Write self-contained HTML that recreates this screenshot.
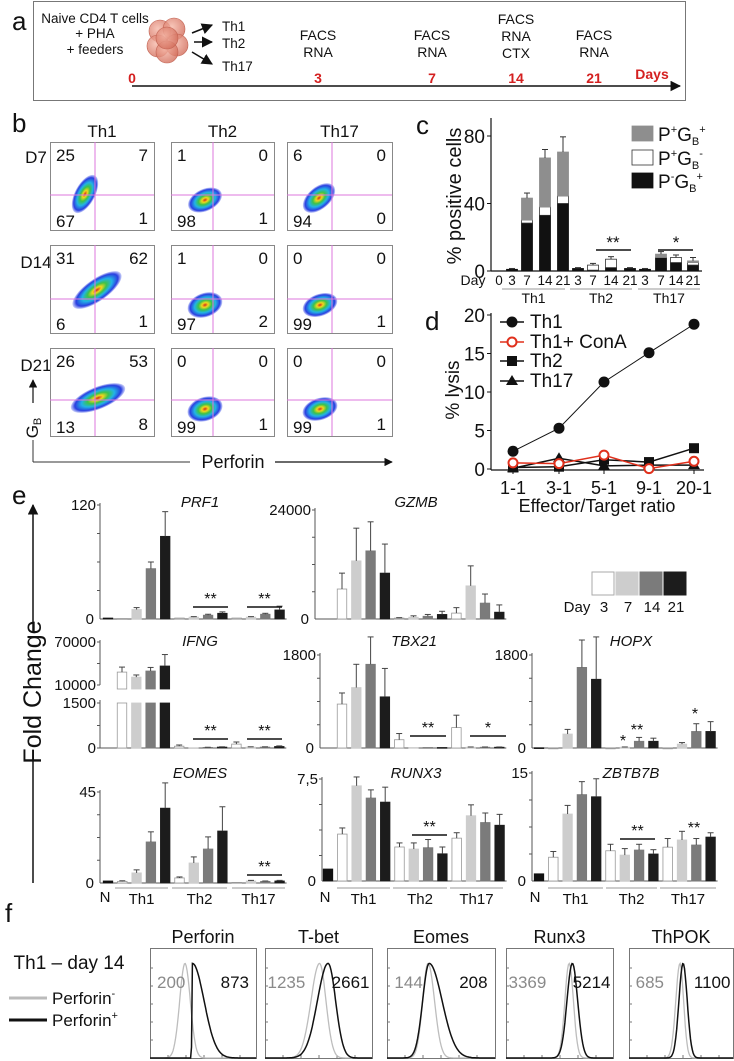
<!DOCTYPE html>
<html><head><meta charset="utf-8"><title>Figure</title>
<style>html,body{margin:0;padding:0;background:#fff;}svg{display:block;}</style>
</head><body>
<svg id="fig" width="734" height="1061" viewBox="0 0 734 1061" font-family="'Liberation Sans', Arial, sans-serif">
<defs>
<radialGradient id="flowGrad" cx="50%" cy="50%" r="50%">
<stop offset="0%" stop-color="#d02a1a"/><stop offset="18%" stop-color="#f2d81c"/><stop offset="38%" stop-color="#3cc24a"/><stop offset="60%" stop-color="#22b4e6"/><stop offset="85%" stop-color="#2a3ee0"/><stop offset="100%" stop-color="#3a50e8" stop-opacity="0.25"/>
</radialGradient>
<radialGradient id="cellGrad" cx="40%" cy="40%" r="60%"><stop offset="0%" stop-color="#f6b8a8"/><stop offset="100%" stop-color="#d4705e"/></radialGradient>
<marker id="arr" viewBox="0 0 10 10" refX="9" refY="5" markerWidth="7" markerHeight="7" orient="auto"><path d="M0,0 L10,5 L0,10 z" fill="#111"/></marker>
</defs>
</svg>
<script>
// ---------- DATA ----------
const aDays = ['0','3','7','14','21'];
const aAssays = [[], ['FACS','RNA'], ['FACS','RNA'], ['FACS','RNA','CTX'], ['FACS','RNA']];
const bCols = ['Th1','Th2','Th17'];
const bRows = ['D7','D14','D21'];
const bQuad = [
 [[25,7,67,1],[1,0,98,1],[6,0,94,0]],
 [[31,62,6,1],[1,0,97,2],[0,0,99,1]],
 [[26,53,13,8],[0,0,99,1],[0,0,99,1]]
];
const cDays = ['0','3','7','14','21','3','7','14','21','3','7','14','21'];
const cGroups = ['Th1','Th2','Th17'];
const cBlack = [0,1,28.4,33,40,1.5,0.5,2,1.5,1,8,5,3.5];
const cWhite = [0,0,1.8,5,4.5,0,3,5,0,0,0,3,1.5];
const cGrey  = [0,0,13,29,26,0,0,0,0,0,2,0,1];
const cErr   = [0,0.5,3,5,9,0.5,1,1.5,0.5,0.5,1.5,1.5,2];
const cTicks = [0,40,80];
const dRatios = ['1-1','3-1','5-1','9-1','20-1'];
const dTh1  = [2.3,5.3,11.3,15.1,18.8];
const dConA = [0.8,0.7,1.8,0.05,1.0];
const dTh2  = [0.2,0.3,1.2,0.9,2.7];
const dTh17 = [0.1,1.4,0.4,0.5,0.5];
const dTicks = [0,5,10,15,20];
const colsN  = ['N','W','L','G','B','W','L','G','B','W','L','G','B'];
const cols12 = ['W','L','G','B','W','L','G','B','W','L','G','B'];
const prf1Vals = [1,0.5,10,53,87, 1,2,4,6, 1,2,5,9.5];
const prf1Err  = [0,0,2,7,26, 0,0.5,1,1.5, 0,0.5,1,4];
const gzmbVals = [6600,12800,15000,10100, 200,400,600,1000, 1300,7300,3500,1500];
const gzmbErr  = [3500,7200,6400,6400, 100,300,400,700, 1200,4400,2000,1600];
const ifngVals = [28000,21000,29500,36500, 60,10,20,30, 130,30,30,50];
const ifngErr  = [7000,3000,5000,16000, 40,0,5,10, 70,10,10,20];
const tbx21Vals = [850,1170,1620,990, 160,10,10,10, 395,15,15,15];
const tbx21Err  = [215,450,530,550, 120,0,0,0, 240,5,5,5];
const hopxVals = [5,0,270,1560,1330, 0,15,130,130, 0,75,320,320];
const hopxErr  = [0,0,90,530,820, 0,5,75,60, 0,30,150,190];
const eomesVals = [1,0.8,5,20.3,37, 2.5,9.9,16.8,25.7, 0.3,1,0.8,1];
const eomesErr  = [0,0.3,1.5,5,12.5, 0.5,3,6,12, 0,0.3,0.2,0.3];
const runx3Vals = [0.88,3.45,7.0,6.1,5.8, 2.5,2.35,2.45,2.0, 3.15,4.8,4.3,4.1];
const runx3Err  = [0,0.45,0.65,0.6,1.1, 0.3,0.45,0.6,0.5, 0.4,0.8,0.7,0.8];
const zbtbVals = [1,3.3,9.3,12,11.7, 4.2,3.6,4.3,3.75, 4.7,5.7,5.0,6.1];
const zbtbErr  = [0,0.8,1.2,1.8,2.5, 0.9,0.9,0.8,0.6, 1.2,1.2,0.9,0.6];
const legendDays = ['3','7','14','21'];
const fMarkers = ['Perforin','T-bet','Eomes','Runx3','ThPOK'];
const fNegMFI = ['200','1235','144','3369','685'];
const fPosMFI = ['873','2661','208','5214','1100'];
const fNegCenter = [0.33,0.51,0.38,0.59,0.49];
const fNegWl = [0.05,0.08,0.05,0.04,0.04];
const fNegWr = [0.05,0.06,0.06,0.04,0.035];
const fPosCenter = [0.40,0.59,0.39,0.62,0.52];
const fPosWl = [0.004,0.10,0.06,0.05,0.04];
const fPosWr = [0.11,0.07,0.12,0.05,0.04];

// ---------- HELPERS ----------
const NS = 'http://www.w3.org/2000/svg';
const svg = document.getElementById('fig');
function mk(tag, attrs, name, parent) {
  const e = document.createElementNS(NS, tag);
  for (const k in attrs) e.setAttribute(k, attrs[k]);
  
  
  (parent || svg).appendChild(e);
  return e;
}
function ln(x1,y1,x2,y2,name,stroke,w,extra,parent){ return mk('line',Object.assign({x1,y1,x2,y2,stroke:stroke||'#111','stroke-width':w||1},extra||{}),name,parent); }
function tx(x,y,s,size,name,anchor,extra,parent){ const e=mk('text',Object.assign({x,y,'font-size':size,'text-anchor':anchor||'start',fill:'#111'},extra||{}),name,parent); e.textContent=s; return e; }
const FILL = {N:'#111',W:'#fff',L:'#cdcdcd',G:'#7b7b7b',B:'#1c1c1c'};

// ---------- PANEL A ----------
tx(12,30,'a',26,'panel-a-label');
mk('rect',{x:33.5,y:1.5,width:652,height:99,fill:'none',stroke:'#777','stroke-width':1},'protocol-box');
tx(95,23,'Naive CD4 T cells',13.5,'naive-cd4-label','middle');
tx(95,38,'+ PHA',13.5,'pha-label','middle');
tx(95,54,'+ feeders',13.5,'feeders-label','middle');
[[160,31],[174,29],[158,46],[177,45],[167,52],[167,38]].forEach(function(p){
  mk('circle',{cx:p[0],cy:p[1],r:11,fill:'url(#cellGrad)','fill-opacity':0.8,stroke:'#c06050','stroke-width':0.6},'cell-cluster-circle');
});
[[192,33,212,25],[194,42,212,42],[192,52,212,64]].forEach(function(a){
  ln(a[0],a[1],a[2],a[3],'differentiation-arrow','#111',1.6,{'marker-end':'url(#arr)'});
});
tx(222,31,'Th1',13.5,'th1-arrow-label');
tx(222,48,'Th2',13.5,'th2-arrow-label');
tx(222,71,'Th17',13.5,'th17-arrow-label');
const aX = [132,318,432,516,594];
aDays.forEach(function(d,i){
  tx(aX[i],83,d,14,'day-'+d+'-label','middle',{fill:'#d42020','font-weight':'bold'});
  const as = aAssays[i];
  as.forEach(function(s,j){
    const y0 = as.length===3 ? 24 : 40;
    tx(aX[i],y0+j*17,s,14,'assay-'+s.toLowerCase()+'-day-'+d,'middle');
  });
});
tx(652,79,'Days',14,'days-axis-label','middle',{fill:'#d42020','font-weight':'bold'});
ln(132,86,680,86,'timeline-axis','#111',1.5,{'marker-end':'url(#arr)'});

// ---------- PANEL B ----------
tx(12,132,'b',26,'panel-b-label');
const bX=[50,171,287], bW=[104,103,105], bY=[142,245,348], bH=88;
const bVx=[45,42,45], bHy=[53,54,52];
const blobs = [
 [[35,52,21,10,-62],[34,58,18,11,-25],[32,56,19,11,-40]],
 [[47,45,29,11,-35],[34,60,18,12,-20],[33,60,18,11,-20]],
 [[48,50,29,11,-22],[34,61,18,12,-18],[33,61,18,11,-18]]
];
bCols.forEach(function(c,j){ tx(bX[j]+bW[j]/2,137,c,17,'flow-col-'+c.toLowerCase(),'middle'); });
bRows.forEach(function(r,i){
  tx(36,bY[i]+23+(i===0?-2:0),r,17,'flow-row-'+r.toLowerCase(),'middle');
  bCols.forEach(function(c,j){
    const x=bX[j], y=bY[i], w=bW[j];
    const g = mk('g',{},'flow-plot-'+c.toLowerCase()+'-'+r.toLowerCase());
    mk('rect',{x:x+0.5,y:y+0.5,width:w,height:bH,fill:'#fff',stroke:'#888','stroke-width':1},'flow-plot-frame',g);
    const b = blobs[i][j];
    mk('ellipse',{cx:x+b[0],cy:y+b[1],rx:b[2],ry:b[3],fill:'url(#flowGrad)',transform:'rotate('+b[4]+' '+(x+b[0])+' '+(y+b[1])+')'},'flow-density-cloud',g);
    ln(x+bVx[j],y,x+bVx[j],y+bH,'quadrant-vertical-gate','#dd77dd',1,{},g);
    ln(x,y+bHy[i],x+w,y+bHy[i],'quadrant-horizontal-gate','#dd77dd',1,{},g);
    const q=bQuad[i][j];
    tx(x+6,y+19,String(q[0]),17,'quadrant-upper-left-pct','start',{},g);
    tx(x+w-6,y+19,String(q[1]),17,'quadrant-upper-right-pct','end',{},g);
    tx(x+6,y+bH-3,String(q[2]),17,'quadrant-lower-left-pct','start',{},g);
    tx(x+w-6,y+bH-6,String(q[3]),17,'quadrant-lower-right-pct','end',{},g);
  });
});
ln(33,403,33,380,'granzyme-axis-arrow','#111',1.2,{'marker-end':'url(#arr)'});
tx(0,0,'',17,'granzyme-axis-title','middle',{transform:'translate(38 428) rotate(-90)'}).innerHTML='G<tspan font-size="11" dy="3">B</tspan>';
ln(33,440,33,462,'bracket-vertical','#333',1);
ln(33,462,190,462,'bracket-horizontal','#333',1);
tx(233,468,'Perforin',18,'perforin-axis-title','middle');
ln(275,462,392,462,'perforin-axis-arrow','#111',1.2,{'marker-end':'url(#arr)'});

// ---------- PANEL C ----------
tx(416,134,'c',26,'panel-c-label');
const cAx=491, cY0=271, cPx=1.6875, cBW=11;
function cy(v){ return cY0 - v*cPx; }
function cxi(i){ return [499,512,527,545,563,578,593,611,630,645,661,676,693][i]; }
ln(cAx,118,cAx,cY0,'c-y-axis','#111',1.2);
ln(cAx,cY0,702,cY0,'c-x-axis','#111',1.2);
cTicks.forEach(function(t){ ln(cAx-4,cy(t),cAx,cy(t),'c-y-tick','#111',1); tx(cAx-6,cy(t)+7,String(t),19,'c-y-tick-label','end'); });
tx(0,0,'% positive cells',20,'c-y-axis-title','middle',{transform:'translate(461 196) rotate(-90)'});
cDays.forEach(function(d,i){
  const x=cxi(i);
  let base=0;
  [[cBlack[i],'#111','#111'],[cWhite[i],'#fff','#333'],[cGrey[i],'#8e8e8e','#8e8e8e']].forEach(function(s){
    if(s[0]>0){ mk('rect',{x:x-cBW/2,y:cy(base+s[0]),width:cBW,height:s[0]*cPx,fill:s[1],stroke:s[2],'stroke-width':0.8},'c-stacked-bar-segment'); }
    base+=s[0];
  });
  if(cErr[i]>0){ ln(x,cy(base),x,cy(base+cErr[i]),'c-error-bar','#333',1); ln(x-3,cy(base+cErr[i]),x+3,cy(base+cErr[i]),'c-error-cap','#333',1); }
  tx(x,285,d,13.5,'c-day-tick-label','middle');
});
tx(473,285,'Day',14,'c-day-axis-title','middle');
[[502,565],[570,632],[638,700]].forEach(function(g,k){
  ln(g[0],289,g[1],289,'c-group-line','#999',1);
  tx((g[0]+g[1])/2,303,cGroups[k],14,'c-group-label-'+cGroups[k].toLowerCase(),'middle');
});
ln(596,250,631,250,'c-significance-line','#111',1.5); tx(613,248,'**',17,'c-significance-th2','middle');
ln(658,250,693,250,'c-significance-line','#111',1.5); tx(676,248,'*',17,'c-significance-th17','middle');
const cLeg=[['#8e8e8e','#8e8e8e','+','+',126],['#fff','#333','+','-',150],['#111','#111','-','+',173]];
cLeg.forEach(function(L){
  mk('rect',{x:632,y:L[4],width:21,height:15,fill:L[0],stroke:L[1],'stroke-width':0.8},'c-legend-swatch');
  const t=tx(658,L[4]+15,'',19,'c-legend-label');
  t.innerHTML='P<tspan font-size="11" dy="-8">'+L[2]+'</tspan><tspan dy="8">G</tspan><tspan font-size="11" dy="4">B</tspan><tspan font-size="11" dy="-12">'+L[3]+'</tspan>';
});

// ---------- PANEL D ----------
tx(425,330,'d',26,'panel-d-label');
const dAx=491, dY0=469, dPx=7.7;
function dy(v){ return dY0 - v*dPx; }
function dxi(i){ return [513,559,604,649,694][i]; }
ln(dAx,313,dAx,dY0+1,'d-y-axis','#111',1.2);
ln(dAx,dY0+1,704,dY0+1,'d-x-axis','#111',1.2);
dTicks.forEach(function(t){ ln(dAx-4,dy(t),dAx,dy(t),'d-y-tick','#111',1); tx(dAx-6,dy(t)+7,String(t),19,'d-y-tick-label','end'); });
dRatios.forEach(function(r,i){ ln(dxi(i),dY0+1,dxi(i),dY0+5,'d-x-tick','#111',1); tx(dxi(i),494,r,18,'d-x-tick-label','middle'); });
tx(597,512,'Effector/Target ratio',18,'d-x-axis-title','middle');
tx(0,0,'% lysis',19,'d-y-axis-title','middle',{transform:'translate(459 390) rotate(-90)'});
function series(vals,stroke,w,name){
  let d=''; vals.forEach(function(v,i){ d+=(i?'L':'M')+dxi(i)+','+dy(v); });
  mk('path',{d:d,fill:'none',stroke:stroke,'stroke-width':w},name);
}
function marker(type,x,y,name){
  if(type==='circle') mk('circle',{cx:x,cy:y,r:5.5,fill:'#111'},name);
  if(type==='open') mk('circle',{cx:x,cy:y,r:4.5,fill:'#fff',stroke:'#e0301c','stroke-width':2},name);
  if(type==='square') mk('rect',{x:x-5,y:y-5,width:10,height:10,fill:'#111'},name);
  if(type==='tri') mk('path',{d:'M'+x+','+(y-6)+' L'+(x+6)+','+(y+4)+' L'+(x-6)+','+(y+4)+' z',fill:'#111'},name);
}
series(dTh17,'#111',1.5,'th17-lysis-line');
series(dTh2,'#111',1.5,'th2-lysis-line');
series(dConA,'#e0301c',1.5,'th1-cona-lysis-line');
series(dTh1,'#111',1,'th1-lysis-line');
dTh17.forEach(function(v,i){ marker('tri',dxi(i),dy(v),'th17-lysis-point'); });
dTh2.forEach(function(v,i){ marker('square',dxi(i),dy(v),'th2-lysis-point'); });
dConA.forEach(function(v,i){ marker('open',dxi(i),dy(v),'th1-cona-lysis-point'); });
dTh1.forEach(function(v,i){ marker('circle',dxi(i),dy(v),'th1-lysis-point'); });
[['circle','#111','Th1',328],['open','#e0301c','Th1+ ConA',348],['square','#111','Th2',367],['tri','#111','Th17',387]].forEach(function(L){
  ln(500,L[3]-6,524,L[3]-6,'d-legend-line',L[1],1.5);
  marker(L[0],512,L[3]-6,'d-legend-marker');
  tx(530,L[3],L[2],19,'d-legend-label');
});

// ---------- PANEL E ----------
tx(12,504,'e',26,'panel-e-label');
ln(33,633,33,505,'fold-change-axis-arrow','#111',1.5,{'marker-end':'url(#arr)'});
ln(33,760,33,883,'fold-change-axis-line','#111',1.5);
tx(0,0,'Fold Change',25,'fold-change-title','middle',{transform:'translate(41 692) rotate(-90)'});
const SP=14.3, BW=9.5;
function barChart(name,axisX,y0,yTop,max,topLabel,x0,vals,errs,cols,title,titleX,titleY){
  const g=mk('g',{},name+'-chart');
  const sc=function(v){ return y0 - v/max*(y0-yTop); };
  const n=vals.length;
  ln(axisX,yTop-2,axisX,y0,name+'-y-axis','#555',1,{},g);
  ln(axisX,y0,x0+(n-1)*SP+7,y0,name+'-baseline','#555',1,{},g);
  [0.25,0.5,0.75,1].forEach(function(f){ ln(axisX-3,y0-f*(y0-yTop),axisX,y0-f*(y0-yTop),name+'-y-tick','#555',1,{},g); });
  tx(axisX-4,yTop+5,topLabel,15,name+'-y-max-label','end',{},g);
  tx(axisX-6,y0+5,'0',15,name+'-y-zero-label','end',{},g);
  vals.forEach(function(v,i){
    const x=x0+i*SP, c=cols[i];
    const top=sc(v);
    mk('rect',{x:x-BW/2,y:top,width:BW,height:Math.max(y0-top,0.8),fill:FILL[c],stroke:c==='W'?'#999':FILL[c],'stroke-width':0.8},name+'-bar',g);
    if(errs[i]>0){ const ey=sc(v+errs[i]); ln(x,top,x,ey,name+'-error-bar','#444',1,{},g); ln(x-3,ey,x+3,ey,name+'-error-cap','#444',1,{},g); }
  });
  tx(titleX,titleY,title,15,name+'-gene-title','middle',{'font-style':'italic'},g);
  return g;
}
function sig(x1,x2,y,s,name){ if(x2>x1) ln(x1,y,x2,y,name+'-line','#111',1.5); tx((x1+x2)/2,y-3,s,16,name,'middle'); }
barChart('prf1',100,619,505,120,'120',108,prf1Vals,prf1Err,colsN,'PRF1',200,507);
sig(193,228,607,'**','prf1-sig-th2'); sig(247,282,607,'**','prf1-sig-th17');
barChart('gzmb',315,619,510,24000,'24000',342,gzmbVals,gzmbErr,cols12,'GZMB',416,507);
legendDays.forEach(function(d,i){
  const k=['W','L','G','B'][i];
  mk('rect',{x:592+i*24,y:572,width:22,height:23,fill:FILL[k],stroke:k==='W'?'#aaa':FILL[k],'stroke-width':1},'day-legend-swatch-'+d);
  tx(604+i*24,612,d,15,'day-legend-label-'+d,'middle');
});
tx(577,612,'Day',15,'day-legend-title','middle');
(function(){
  const axisX=100, x0=122;
  const g=mk('g',{},'ifng-chart');
  const loY0=748, loTop=703, upY0=685, upTop=642;
  const lo=function(v){ return loY0 - Math.min(v,1500)/1500*(loY0-loTop); };
  const up=function(v){ return upY0 - (v-10000)/60000*(upY0-upTop); };
  ln(axisX,upTop-2,axisX,upY0,'ifng-upper-y-axis','#555',1,{},g);
  ln(axisX,loTop-3,axisX,loY0,'ifng-lower-y-axis','#555',1,{},g);
  ln(axisX,loY0,x0+11*SP+7,loY0,'ifng-baseline','#555',1,{},g);
  [[upTop,'70000'],[upY0,'10000'],[loTop,'1500'],[loY0,'0']].forEach(function(t){ ln(axisX-3,t[0],axisX,t[0],'ifng-y-tick','#555',1,{},g); tx(axisX-4,t[0]+5,t[1],15,'ifng-y-tick-label','end',{},g); });
  ln(axisX-3,(upTop+upY0)/2,axisX,(upTop+upY0)/2,'ifng-y-tick','#555',1,{},g);
  ln(axisX-3,(loTop+loY0)/2,axisX,(loTop+loY0)/2,'ifng-y-tick','#555',1,{},g);
  ifngVals.forEach(function(v,i){
    const x=x0+i*SP, c=cols12[i];
    const st=c==='W'?'#999':FILL[c];
    const t=lo(v);
    mk('rect',{x:x-BW/2,y:t,width:BW,height:Math.max(loY0-t,0.8),fill:FILL[c],stroke:st,'stroke-width':0.8},'ifng-bar-lower',g);
    if(v>10000){
      const ut=up(v);
      mk('rect',{x:x-BW/2,y:ut,width:BW,height:upY0+4-ut,fill:FILL[c],stroke:st,'stroke-width':0.8},'ifng-bar-upper',g);
      const ey=up(v+ifngErr[i]); ln(x,ut,x,ey,'ifng-error-bar','#444',1,{},g); ln(x-3,ey,x+3,ey,'ifng-error-cap','#444',1,{},g);
    } else if(ifngErr[i]>0){
      const ey=lo(v+ifngErr[i]); ln(x,t,x,ey,'ifng-error-bar','#444',1,{},g); ln(x-3,ey,x+3,ey,'ifng-error-cap','#444',1,{},g);
    }
  });
  tx(200,646,'IFNG',15,'ifng-gene-title','middle',{'font-style':'italic'},g);
})();
sig(193,228,739,'**','ifng-sig-th2'); sig(247,282,739,'**','ifng-sig-th17');
barChart('tbx21',320,748,655,1800,'1800',342,tbx21Vals,tbx21Err,cols12,'TBX21',414,646);
sig(410,446,736,'**','tbx21-sig-th2'); sig(470,506,736,'*','tbx21-sig-th17');
barChart('hopx',532,748,655,1800,'1800',539,hopxVals,hopxErr,colsN,'HOPX',631,646);
sig(623,623,749,'*','hopx-sig-th2-d7'); sig(637,637,738,'**','hopx-sig-th2-d14'); sig(695,695,722,'*','hopx-sig-th17-d14');
barChart('eomes',100,883,792,45,'45',108,eomesVals,eomesErr,colsN,'EOMES',200,778);
sig(247,282,875,'**','eomes-sig-th17');
barChart('runx3',322,881,779,7.5,'7,5',328,runx3Vals,runx3Err,colsN,'RUNX3',416,778);
sig(412,447,835,'**','runx3-sig-th2');
barChart('zbtb7b',532,881,773,15,'15',539,zbtbVals,zbtbErr,colsN,'ZBTB7B',631,778);
sig(620,655,839,'**','zbtb7b-sig-th2'); sig(694,694,836,'**','zbtb7b-sig-th17');
[[105,[115,168],[172,227],[232,285]],[325,[337,390],[393,447],[450,503]],[535,[548,603],[606,657],[660,716]]].forEach(function(r){
  tx(r[0],902,'N',15,'e-group-label-n','middle');
  ['Th1','Th2','Th17'].forEach(function(gname,j){
    const s=r[j+1];
    ln(s[0],888,s[1],888,'e-group-line','#999',1);
    tx((s[0]+s[1])/2,904,gname,15,'e-group-label-'+gname.toLowerCase(),'middle');
  });
});

// ---------- PANEL F ----------
tx(5,922,'f',26,'panel-f-label');
tx(69,969,'Th1 – day 14',19,'th1-day14-label','middle');
ln(9,998,47,998,'perforin-neg-legend-line','#bbb',3);
ln(9,1020,47,1020,'perforin-pos-legend-line','#111',3);
tx(52,1004,'',17,'perforin-neg-legend-label').innerHTML='Perforin<tspan font-size="11" dy="-7">-</tspan>';
tx(52,1026,'',17,'perforin-pos-legend-label').innerHTML='Perforin<tspan font-size="11" dy="-7">+</tspan>';
const fBoxX=[150,265,387,506,629], fBoxW=[106,107,108,107,104];
const fTop=948, fBot=1058;
function histPath(x,w,c,wl,wr){
  let d='';
  for(let k=0;k<=120;k++){
    const f=k/120; const s=f<c?wl:wr;
    const gv=Math.exp(-Math.pow((f-c)/s,2)/2);
    d+=(k?'L':'M')+(x+f*w).toFixed(1)+','+(fBot-gv*(fBot-fTop)*0.86).toFixed(1);
  }
  return d;
}
fMarkers.forEach(function(m,i){
  const x=fBoxX[i], w=fBoxW[i];
  const g=mk('g',{},'histogram-'+m.toLowerCase());
  mk('rect',{x:x+0.5,y:fTop+0.5,width:w,height:fBot-fTop,fill:'#fff',stroke:'#777','stroke-width':1},'histogram-frame',g);
  for(let t=1;t<6;t++){ ln(x,fBot-t*18,x+3,fBot-t*18,'histogram-y-tick','#777',1,{},g); ln(x+t*18,fBot,x+t*18,fBot-3,'histogram-x-tick','#777',1,{},g); }
  mk('path',{d:histPath(x,w,fNegCenter[i],fNegWl[i],fNegWr[i]),fill:'none',stroke:'#bdbdbd','stroke-width':1.3},'perforin-neg-histogram',g);
  mk('path',{d:histPath(x,w,fPosCenter[i],fPosWl[i],fPosWr[i]),fill:'none',stroke:'#111','stroke-width':1.5},'perforin-pos-histogram',g);
  tx(x+w/2,943,m,18,'histogram-title-'+m.toLowerCase(),'middle',{},g);
  tx(x+w*0.2,988,fNegMFI[i],17,'mfi-perforin-neg','middle',{fill:'#8a8a8a'},g);
  tx(x+w*0.8,988,fPosMFI[i],17,'mfi-perforin-pos','middle',{},g);
});
</script>
</body></html>
